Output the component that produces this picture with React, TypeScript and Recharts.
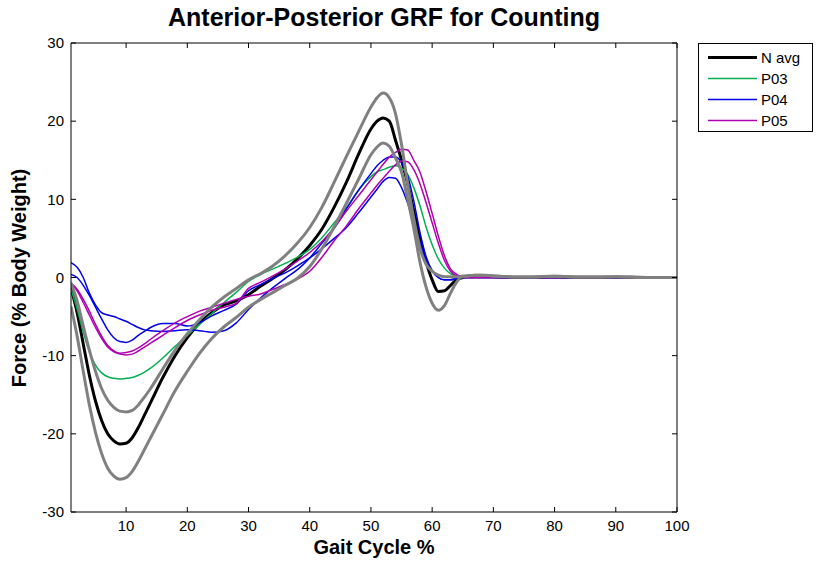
import React from 'react';
import { LineChart, Line, XAxis, YAxis, Legend } from 'recharts';

const gaitPct = [1, 2, 3, 4, 5, 6, 7, 8, 9, 10, 11, 12, 13, 14, 16, 18, 20, 22, 24, 26, 28, 30, 32, 34, 36, 38, 40, 42, 44, 46, 48, 50, 51, 52, 53, 54, 55, 56, 57, 58, 59, 60, 61, 62, 63, 64, 65, 66, 67, 68, 70, 75, 80, 85, 90, 95, 100];

const nAvg = [-1.3, -4.5, -8.5, -12.5, -15.8, -18.3, -20, -20.9, -21.3, -21.2, -20.5, -19.2, -17.6, -16, -12.8, -10, -7.7, -5.8, -4.5, -3.5, -3.0, -2.2, -1.1, -0.1, 1.0, 2.4, 4.1, 6.2, 9.0, 12.2, 15.8, 19, 20, 20.4, 20, 17.6, 15, 12, 8.5, 5, 2, -0.3, -1.8, -1.7, -1.0, -0.3, 0, 0.1, 0.15, 0.15, 0.1, 0, 0.05, 0, 0, 0, 0];

const upperBand = [-0.7, -3, -6.2, -9.3, -12, -14.2, -15.7, -16.6, -17.1, -17.2, -17, -16.3, -15.3, -14.2, -11.7, -9.3, -7.2, -5.4, -3.8, -2.5, -1.4, -0.3, 0.5, 1.5, 2.8, 4.4, 6.4, 9.0, 12.2, 15.5, 18.7, 21.8, 23, 23.6, 23, 21, 17, 12, 7.5, 3.8, 1.7, 0.8, 0.3, 0.1, 0.1, 0.1, 0.1, 0.2, 0.3, 0.3, 0.2, 0.05, 0.15, 0.05, 0.1, 0, 0];

const lowerBand = [-3.7, -7.5, -12, -16.3, -19.8, -22.5, -24.4, -25.4, -25.8, -25.6, -24.8, -23.5, -22, -20.5, -17.5, -14.5, -12, -9.7, -7.8, -6.3, -5.1, -3.8, -2.8, -1.9, -1.0, -0.1, 1.4, 3.7, 6.5, 9.5, 12.6, 15.7, 16.7, 17.2, 16.8, 15.3, 13.5, 10, 6.3, 2, -1.2, -3.3, -4.2, -3.6, -2, -0.6, 0.2, 0.25, 0.3, 0.3, 0.2, 0.05, 0.15, 0.05, 0.1, 0, 0];

const p03 = [-1.5, -4, -7, -9.5, -11.2, -12.2, -12.7, -12.9, -13, -12.9, -12.8, -12.5, -12.1, -11.6, -10.3, -8.8, -7.4, -6.0, -4.6, -3.2, -1.9, -0.5, 0.4, 1.1, 1.8, 2.6, 3.6, 5.1, 7, 8.9, 11.2, 12.9, 13.5, 13.8, 14.1, 14.3, 14, 13.2, 11.5, 9.2, 6.5, 4.2, 2.4, 1.2, 0.5, 0.2, 0.05, 0, 0, 0, 0, 0, 0, 0, 0, 0, 0];

const p04a = [1.9, 1.3, 0, -2, -3.5, -4.5, -4.8, -5, -5.3, -5.6, -6, -6.4, -6.7, -6.8, -6.9, -6.8, -6.7, -6.8, -7, -6.8, -5.8, -4.1, -2.6, -1.3, -0.1, 1.0, 2.5, 4.4, 6.3, 8.8, 11.2, 13.3, 14.3, 15, 15.4, 15.4, 14.7, 13, 9.8, 5.8, 2.7, 0.9, 0, -0.3, -0.3, -0.1, 0, 0, 0, 0, 0, 0, 0, 0, 0, 0, 0];

const p04b = [0.4, 0, -1, -2.3, -3.8, -5.3, -6.7, -7.7, -8.2, -8.3, -8, -7.4, -6.9, -6.4, -5.9, -5.9, -6.2, -5.8, -4.9, -4.2, -3.4, -1.7, -0.9, -0.1, 0.6, 1.5, 2.5, 3.7, 5, 6.4, 8.3, 10.3, 11.3, 12.3, 12.8, 12.7, 11.5, 9.5, 7, 4.5, 2.3, 0.8, 0, -0.3, -0.3, -0.1, 0, 0, 0, 0, 0, 0, 0, 0, 0, 0, 0];

const p05a = [-0.7, -1.5, -2.8, -4.3, -6, -7.5, -8.7, -9.4, -9.8, -9.9, -9.8, -9.4, -8.9, -8.4, -7.4, -6.4, -5.5, -4.8, -4.2, -3.8, -3.3, -1.4, -0.6, 0.2, 1.1, 2.1, 3.2, 4.6, 6.4, 8.5, 10.5, 12.5, 13.5, 14.5, 15.4, 16, 16.4, 16.3, 15, 13.5, 11, 8.2, 5.3, 2.8, 1.1, 0.4, 0.1, 0, 0, 0, 0, 0, 0, 0, 0, 0, 0];

const p05b = [-0.7, -1.7, -3.2, -4.8, -6.4, -7.8, -8.9, -9.5, -9.7, -9.6, -9.4, -9, -8.5, -7.9, -6.8, -5.8, -5, -4.3, -3.8, -3.3, -2.8, -2.4, -2.1, -1.5, -0.9, -0.2, 0.8, 2.6, 4.7, 6.6, 8.8, 10.8, 11.8, 12.7, 13.6, 14.4, 14.9, 14.8, 13.8, 12, 9.6, 7, 4.4, 2.2, 0.8, 0.2, 0, 0, 0, 0, 0, 0, 0, 0, 0, 0, 0];

const xTicks = [10, 20, 30, 40, 50, 60, 70, 80, 90, 100];
const yTicks = [-30, -20, -10, 0, 10, 20, 30];

const legendNames = ['N avg', 'P03', 'P04', 'P05'];

const COLORS = {
  avg: '#000000',
  band: '#808080',
  p03: '#00b050',
  p04: '#0000e6',
  p05: '#b000b0',
};

const data = gaitPct.map((x, i) => ({
  x,
  nAvg: nAvg[i],
  upperBand: upperBand[i],
  lowerBand: lowerBand[i],
  p03: p03[i],
  p04a: p04a[i],
  p04b: p04b[i],
  p05a: p05a[i],
  p05b: p05b[i],
}));

const FONT = 'Arial, "Liberation Sans", Helvetica, sans-serif';

const legendColors = [COLORS.avg, COLORS.p03, COLORS.p04, COLORS.p05];
const legendWidths = [3, 1.5, 1.5, 1.5];

const LegendBox = () => (
  <div
    style={{
      border: '1px solid #000',
      background: '#fff',
      width: 113,
      height: 87,
      boxSizing: 'content-box',
      fontFamily: FONT,
      fontSize: 15,
      position: 'relative',
    }}
  >
    {legendNames.map((name, i) => (
      <div
        key={name}
        style={{
          position: 'absolute',
          left: 0,
          top: 3 + i * 21,
          height: 21,
          display: 'flex',
          alignItems: 'center',
          whiteSpace: 'nowrap',
        }}
      >
        <svg width={62} height={21} style={{ display: 'block' }}>
          <line x1={9} x2={58} y1={10.5} y2={10.5} stroke={legendColors[i]} strokeWidth={legendWidths[i]} />
        </svg>
        <span style={{ color: '#000', lineHeight: '21px' }}>{name}</span>
      </div>
    ))}
  </div>
);

const PLOT_LEFT = 71;
const PLOT_RIGHT = 677;
const PLOT_TOP = 43;
const PLOT_BOTTOM = 512;

const EmptyTick = () => <g />;

export default function App() {
  return (
    <div style={{ position: 'absolute', left: 0, top: 0, width: 817, height: 562, background: '#fff' }}>
      <LineChart
        width={817}
        height={562}
        data={data}
        margin={{ top: PLOT_TOP - 1, right: 817 - PLOT_RIGHT - 1, bottom: 20, left: PLOT_LEFT - 45 }}
      >
        <XAxis
          dataKey="x"
          type="number"
          domain={[1, 100]}
          ticks={xTicks}
          allowDataOverflow
          height={30}
          stroke="#000"
          tickSize={-5}
          tickMargin={13}
          tick={{ fill: '#000', fontSize: 15, fontFamily: FONT }}
        />
        <XAxis
          xAxisId="top"
          orientation="top"
          dataKey="x"
          type="number"
          domain={[1, 100]}
          ticks={xTicks}
          allowDataOverflow
          height={1}
          stroke="#000"
          tickSize={-5}
          tick={<EmptyTick />}
        />
        <YAxis
          type="number"
          domain={[-30, 30]}
          ticks={yTicks}
          allowDataOverflow
          width={45}
          stroke="#000"
          tickSize={-5}
          tickMargin={12}
          tick={{ fill: '#000', fontSize: 15, fontFamily: FONT }}
        />
        <YAxis
          yAxisId="right"
          orientation="right"
          type="number"
          domain={[-30, 30]}
          ticks={yTicks}
          allowDataOverflow
          width={1}
          stroke="#000"
          tickSize={-5}
          tick={<EmptyTick />}
        />
        <Line type="monotone" dataKey="nAvg" stroke={COLORS.avg} strokeWidth={3} dot={false} isAnimationActive={false} />
        <Line type="monotone" dataKey="p03" stroke={COLORS.p03} strokeWidth={1.5} dot={false} isAnimationActive={false} />
        <Line type="monotone" dataKey="p04a" stroke={COLORS.p04} strokeWidth={1.5} dot={false} isAnimationActive={false} />
        <Line type="monotone" dataKey="p04b" stroke={COLORS.p04} strokeWidth={1.5} dot={false} isAnimationActive={false} />
        <Line type="monotone" dataKey="p05a" stroke={COLORS.p05} strokeWidth={1.5} dot={false} isAnimationActive={false} />
        <Line type="monotone" dataKey="p05b" stroke={COLORS.p05} strokeWidth={1.5} dot={false} isAnimationActive={false} />
        <Line type="monotone" dataKey="upperBand" stroke={COLORS.band} strokeWidth={3} dot={false} isAnimationActive={false} />
        <Line type="monotone" dataKey="lowerBand" stroke={COLORS.band} strokeWidth={3} dot={false} isAnimationActive={false} />
        <Line
          xAxisId="top"
          yAxisId="right"
          type="monotone"
          dataKey="nAvg"
          stroke="transparent"
          strokeWidth={0}
          dot={false}
          activeDot={false}
          legendType="none"
          isAnimationActive={false}
        />
        <Legend
          layout="vertical"
          align="center"
          verticalAlign="middle"
          content={() => <LegendBox />}
          wrapperStyle={{ position: 'absolute', left: 698, top: 43, width: 115, height: 89 }}
        />
      </LineChart>
      <div
        style={{
          position: 'absolute',
          left: PLOT_LEFT + 10,
          width: PLOT_RIGHT - PLOT_LEFT,
          top: 5,
          lineHeight: '25px',
          textAlign: 'center',
          fontFamily: FONT,
          fontWeight: 'bold',
          fontSize: 25,
          color: '#000',
          whiteSpace: 'nowrap',
        }}
      >
        Anterior-Posterior GRF for Counting
      </div>
      <div
        style={{
          position: 'absolute',
          left: PLOT_LEFT,
          width: PLOT_RIGHT - PLOT_LEFT,
          top: 537,
          lineHeight: '20px',
          textAlign: 'center',
          fontFamily: FONT,
          fontWeight: 'bold',
          fontSize: 20,
          color: '#000',
          whiteSpace: 'nowrap',
        }}
      >
        Gait Cycle %
      </div>
      <div
        style={{
          position: 'absolute',
          left: 19 - 150,
          top: (PLOT_TOP + PLOT_BOTTOM) / 2 - 10,
          width: 300,
          lineHeight: '20px',
          textAlign: 'center',
          fontFamily: FONT,
          fontWeight: 'bold',
          fontSize: 20,
          color: '#000',
          whiteSpace: 'nowrap',
          transform: 'rotate(-90deg)',
        }}
      >
        Force (% Body Weight)
      </div>
    </div>
  );
}
